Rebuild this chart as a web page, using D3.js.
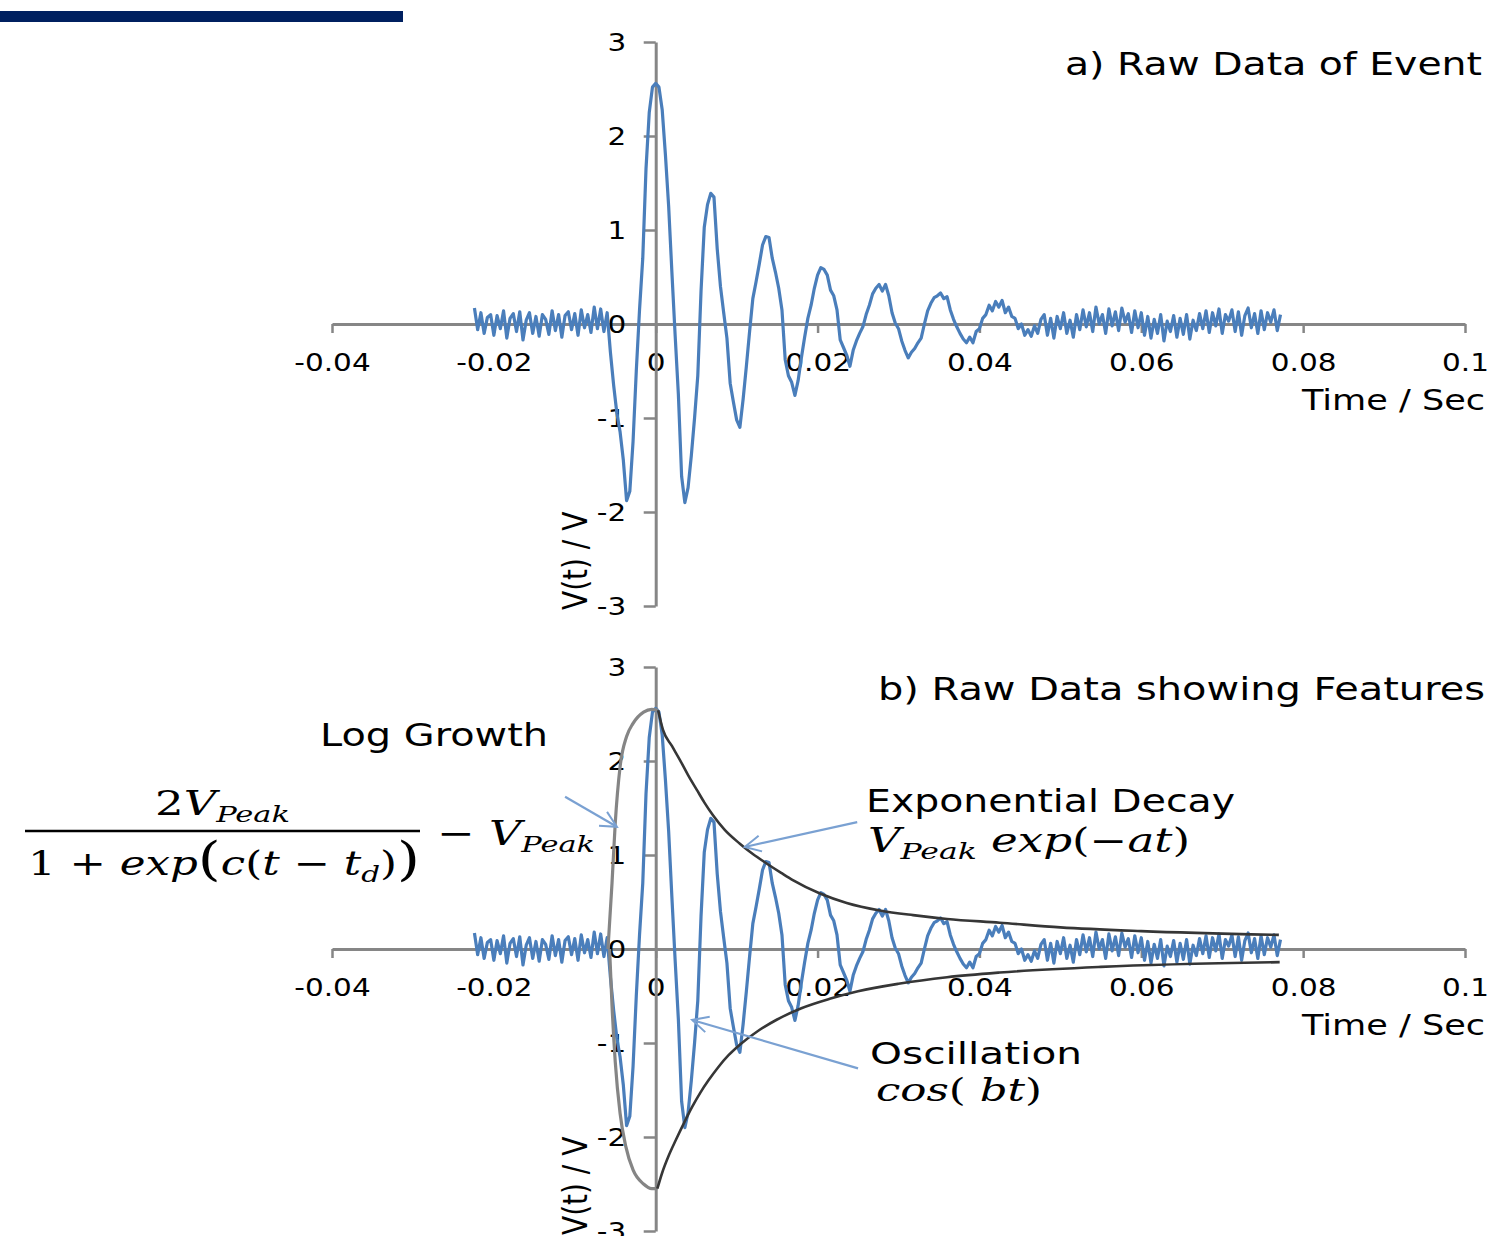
<!DOCTYPE html>
<html>
<head>
<meta charset="utf-8">
<script src="https://cdn.jsdelivr.net/npm/d3@7"></script>
<style>
  body { margin: 0; background: #fff; }
  svg { display: block; }
</style>
</head>
<body>
<svg id="chart" width="1492" height="1236"></svg>
<script>
// sampled signal: time of first sample and spacing (s)
var signalStart = -0.0224;
var signalStep = 0.0004;

// background noise before the event
var preNoise = [0.17, -0.06, 0.12, -0.1, 0.07, 0.1, -0.12, 0.09, -0.05, 0.14, -0.15, 0.06, 0.11, -0.08,
  0.13, -0.17, 0.04, 0.12, -0.1, 0.08, -0.13, 0.1, 0.05, -0.11, 0.14, -0.07, 0.1, -0.14, 0.09, 0.13,
  -0.06, 0.11, -0.12, 0.15, -0.04, 0.1, -0.09, 0.18, -0.05, 0.16, -0.08, 0.12];

// the event itself
var ringdown = [-0.3, -0.65, -0.95, -1.15, -1.45, -1.88, -1.78, -1.25, -0.5, 0.15, 0.7, 1.65, 2.25, 2.52,
  2.56, 2.52, 2.28, 1.8, 1.25, 0.55, -0.12, -0.75, -1.62, -1.9, -1.74, -1.4, -1.0, -0.55, 0.35, 1.03,
  1.27, 1.39, 1.35, 0.8, 0.4, 0.12, -0.15, -0.63, -0.83, -1.02, -1.1, -0.8, -0.45, -0.08, 0.27, 0.45,
  0.64, 0.84, 0.93, 0.92, 0.7, 0.55, 0.38, 0.15, -0.38, -0.55, -0.62, -0.76, -0.6, -0.36, -0.14, 0.06,
  0.2, 0.38, 0.52, 0.6, 0.58, 0.52, 0.36, 0.3, 0.15, -0.17, -0.25, -0.33, -0.45, -0.28, -0.18, -0.1,
  -0.03, 0.1, 0.2, 0.32, 0.38, 0.42, 0.35, 0.42, 0.3, 0.12, 0.01, -0.05, -0.18, -0.28, -0.36, -0.3,
  -0.26, -0.2, -0.15, 0.0, 0.14, 0.22, 0.28, 0.3, 0.33, 0.27, 0.29, 0.15, 0.05, -0.03, -0.1, -0.16,
  -0.2, -0.14, -0.2, -0.08, -0.05, 0.06, 0.1, 0.2, 0.14, 0.24, 0.18, 0.25, 0.12, 0.18, 0.08, 0.06,
  -0.05, 0.0, -0.12, -0.06, -0.13, -0.02, -0.1, 0.05];

// noise after the event
var postNoise = [0.1, -0.12, 0.06, -0.15, 0.08, -0.05, 0.12, -0.1, 0.04, -0.14, 0.1, -0.06,
  0.15, -0.03, 0.12, -0.08, 0.18, 0.0, 0.1, -0.1, 0.16, -0.02, 0.13, -0.07, 0.17, 0.02, 0.11, -0.09, 0.14, -0.04, 0.12,
  -0.12, 0.08, -0.15, 0.05, -0.1, 0.1, -0.18, 0.03, -0.08, 0.09, -0.14, 0.06, -0.11, 0.1, -0.16, 0.04, -0.07, 0.11,
  -0.05, 0.14, -0.09, 0.12, -0.02, 0.16, -0.1, 0.1, 0.03, 0.15, -0.08, 0.13, -0.12, 0.09, 0.17, -0.04, 0.11, -0.1,
  0.14, -0.06, 0.12, 0.02, 0.15, -0.07, 0.1];

// envelopes read from panel b), [time, volts]
var growthUpper = [[-0.0059, 0.0], [-0.0054, 0.7], [-0.005, 1.34], [-0.0044, 1.94], [-0.0036, 2.26],
  [-0.0028, 2.4], [-0.0015, 2.52], [-0.0005, 2.55], [0.0003, 2.54]];
var decayUpper = [[0.0003, 2.54], [0.0009, 2.33], [0.002, 2.16], [0.003, 2.01], [0.004, 1.85],
  [0.0051, 1.69], [0.006, 1.56], [0.0071, 1.42], [0.0085, 1.27], [0.0104, 1.12], [0.012, 1.01],
  [0.0137, 0.91], [0.0155, 0.81], [0.017, 0.73], [0.0203, 0.59], [0.0236, 0.49], [0.0277, 0.41],
  [0.0318, 0.36], [0.036, 0.32], [0.0425, 0.28], [0.05, 0.23], [0.06, 0.19], [0.077, 0.15]];
var growthLower = [[-0.0057, 0.0], [-0.0054, -0.6], [-0.005, -1.2], [-0.0044, -1.75], [-0.0037, -2.1],
  [-0.0028, -2.35], [-0.0015, -2.5], [-0.0005, -2.55], [0.0002, -2.55]];
var decayLower = [[0.0002, -2.55], [0.0008, -2.38], [0.0016, -2.2], [0.0025, -2.03], [0.0035, -1.85],
  [0.0045, -1.68], [0.0055, -1.53], [0.0065, -1.4], [0.0077, -1.26], [0.009, -1.13], [0.0105, -1.01],
  [0.0125, -0.88], [0.015, -0.75], [0.018, -0.63], [0.0215, -0.53], [0.025, -0.45], [0.03, -0.37],
  [0.036, -0.3], [0.0425, -0.25], [0.055, -0.19], [0.0771, -0.14]];

// annotation arrows in data units, [from, to]
var arrowLog = [[-0.0112, 1.62], [-0.0048, 1.30]];
var arrowDecay = [[0.0249, 1.35], [0.0110, 1.085]];
var arrowOsc = [[0.025, -1.27], [0.0045, -0.755]];

// ticks
var xTicks = [-0.04, -0.02, 0, 0.02, 0.04, 0.06, 0.08, 0.1];
var xTickLabels = ["-0.04", "-0.02", "0", "0.02", "0.04", "0.06", "0.08", "0.1"];
var yTicks = [-3, -2, -1, 0, 1, 2, 3];
var yTickLabels = ["-3", "-2", "-1", "0", "1", "2", "3"];

var signal = preNoise.concat(ringdown, postNoise).map(function(v, i) {
  return [signalStart + i * signalStep, v];
});

var svg = d3.select("#chart");
var SANS = "'DejaVu Sans', Verdana, sans-serif";
var SERIF = "'DejaVu Serif', serif";
var AXIS = "#868686";
var BLUE = "#4a7ebb";
var ARROW = "#7aa1d2";

var x = d3.scaleLinear().domain([-0.04, 0.1]).range([332, 1465]);

// remains of the slide header
svg.append("rect").attr("x", 0).attr("y", 11).attr("width", 403).attr("height", 11).attr("fill", "#002060");

// open arrow head
svg.append("defs").append("marker")
  .attr("id", "openArrow")
  .attr("markerUnits", "userSpaceOnUse")
  .attr("viewBox", "-18 -10 20 20")
  .attr("markerWidth", 20).attr("markerHeight", 20)
  .attr("refX", 0).attr("refY", 0)
  .attr("orient", "auto")
  .append("path")
  .attr("d", "M-16,-8 L0,0 L-16,8")
  .attr("fill", "none")
  .attr("stroke", ARROW)
  .attr("stroke-width", 2);

function addText(parent, opt) {
  var t = parent.append("text")
    .attr("x", opt.x).attr("y", opt.y)
    .attr("font-family", opt.family || SANS)
    .attr("font-size", opt.size)
    .attr("fill", "#000");
  if (opt.width) t.attr("textLength", opt.width).attr("lengthAdjust", "spacingAndGlyphs");
  if (opt.text) t.text(opt.text);
  return t;
}

function span(t, text, o) {
  o = o || {};
  var s = t.append("tspan").text(text);
  if (o.italic) s.attr("font-style", "italic");
  if (o.size) s.attr("font-size", o.size);
  if (o.dy) s.attr("dy", o.dy);
  return s;
}

function drawPanel(top, title, withFeatures) {
  var y = d3.scaleLinear().domain([-3, 3]).range([top + 564, top]);
  var g = svg.append("g");

  var xAxis = g.append("g")
    .attr("transform", "translate(0," + y(0) + ")")
    .call(d3.axisBottom(x).tickValues(xTicks).tickSize(9).tickSizeOuter(0).tickPadding(20)
      .tickFormat(function(d, i) { return xTickLabels[i]; }));
  var yAxis = g.append("g")
    .attr("transform", "translate(" + x(0) + ",0)")
    .call(d3.axisLeft(y).tickValues(yTicks).tickSize(12).tickSizeOuter(0).tickPadding(13)
      .tickFormat(function(d, i) { return yTickLabels[i]; }));

  [xAxis, yAxis].forEach(function(a) {
    a.select(".domain").attr("stroke", AXIS).attr("stroke-width", 3);
    a.selectAll(".tick line").attr("stroke", AXIS).attr("stroke-width", 2.5);
    a.selectAll(".tick text")
      .attr("fill", "#000")
      .attr("font-family", SANS)
      .attr("font-size", 25)
      .attr("transform", "scale(1.18,1)");
  });

  // raw data
  g.append("path")
    .datum(signal)
    .attr("fill", "none")
    .attr("stroke", BLUE)
    .attr("stroke-width", 3.2)
    .attr("stroke-linejoin", "round")
    .attr("d", d3.line().x(function(d) { return x(d[0]); }).y(function(d) { return y(d[1]); }));

  addText(g, { x: title.x, y: top + 33, size: 31.5, width: title.w, text: title.text });
  addText(g, { x: 1302, y: top + 368, size: 29, width: 183, text: "Time / Sec" });

  g.append("text")
    .attr("transform", "translate(587," + (top + 568) + ") rotate(-90) scale(1,1.2)")
    .attr("font-family", SANS)
    .attr("font-size", 28)
    .text("V(t) / V");

  if (!withFeatures) return;

  var curve = d3.line().curve(d3.curveMonotoneX)
    .x(function(d) { return x(d[0]); }).y(function(d) { return y(d[1]); });

  [growthUpper, growthLower].forEach(function(s) {
    g.append("path").datum(s).attr("fill", "none").attr("stroke", "#858585").attr("stroke-width", 3.2).attr("d", curve);
  });
  [decayUpper, decayLower].forEach(function(s) {
    g.append("path").datum(s).attr("fill", "none").attr("stroke", "#363636").attr("stroke-width", 2.6).attr("d", curve);
  });

  [arrowLog, arrowDecay, arrowOsc].forEach(function(a) {
    g.append("line")
      .attr("x1", x(a[0][0])).attr("y1", y(a[0][1]))
      .attr("x2", x(a[1][0])).attr("y2", y(a[1][1]))
      .attr("stroke", ARROW).attr("stroke-width", 2.2)
      .attr("marker-end", "url(#openArrow)");
  });

  // log growth
  addText(g, { x: 320, y: 746, size: 31.5, width: 228, text: "Log Growth" });
  var num = addText(g, { x: 155, y: 815, size: 34, width: 135, family: SERIF });
  span(num, "2"); span(num, "V", { italic: true }); span(num, "Peak", { italic: true, size: 23, dy: 7 });
  g.append("line").attr("x1", 25).attr("x2", 420).attr("y1", 831).attr("y2", 831)
    .attr("stroke", "#000").attr("stroke-width", 2.5);
  var den = addText(g, { x: 28, y: 875, size: 34, width: 392, family: SERIF });
  span(den, "1 + "); span(den, "exp", { italic: true }); span(den, "(", { size: 46 });
  span(den, "c", { italic: true }); span(den, "("); span(den, "t", { italic: true }); span(den, " − ");
  span(den, "t", { italic: true }); span(den, "d", { italic: true, size: 23, dy: 7 });
  span(den, ")", { dy: -7 }); span(den, ")", { size: 46 });
  var tail = addText(g, { x: 437, y: 845, size: 34, width: 158, family: SERIF });
  span(tail, "− "); span(tail, "V", { italic: true }); span(tail, "Peak", { italic: true, size: 23, dy: 7 });

  // exponential decay
  addText(g, { x: 866, y: 812, size: 31.5, width: 369, text: "Exponential Decay" });
  var dec = addText(g, { x: 868, y: 852, size: 33, width: 322, family: SERIF });
  span(dec, "V", { italic: true }); span(dec, "Peak", { italic: true, size: 23, dy: 7 });
  span(dec, " exp", { italic: true, dy: -7 }); span(dec, "("); span(dec, "−");
  span(dec, "at", { italic: true }); span(dec, ")");

  // oscillation
  addText(g, { x: 870, y: 1064, size: 30, width: 212, text: "Oscillation" });
  var osc = addText(g, { x: 876, y: 1101, size: 31, width: 166, family: SERIF });
  span(osc, "cos", { italic: true }); span(osc, "( "); span(osc, "bt", { italic: true }); span(osc, ")");
}

drawPanel(42, { text: "a) Raw Data of Event", x: 1065, w: 417 }, false);
drawPanel(667, { text: "b) Raw Data showing Features", x: 878, w: 607 }, true);
</script>
</body>
</html>
